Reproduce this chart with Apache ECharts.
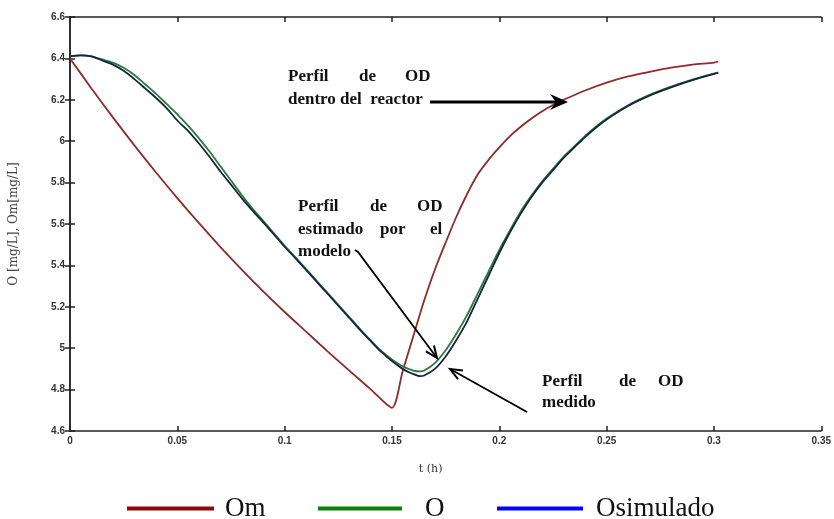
<!DOCTYPE html>
<html>
<head>
<meta charset="utf-8">
<script src="https://cdn.jsdelivr.net/npm/echarts@6/dist/echarts.min.js"></script>
<style>
html,body{margin:0;padding:0;background:#fff;}
#chart{width:834px;height:519px;}
</style>
</head>
<body>
<div id="chart"></div>
<script>
// ---- data ----
const xTicks = [0, 0.05, 0.1, 0.15, 0.2, 0.25, 0.3, 0.35];
const yTicks = [4.6, 4.8, 5, 5.2, 5.4, 5.6, 5.8, 6, 6.2, 6.4, 6.6];

const tOm = [0,0.01,0.02,0.03,0.04,0.05,0.06,0.07,0.08,0.09,0.10,0.11,0.12,0.13,0.14,0.15,0.155,0.16,0.165,0.17,0.175,0.18,0.185,0.19,0.195,0.20,0.205,0.21,0.215,0.22,0.225,0.23,0.24,0.25,0.26,0.27,0.28,0.29,0.30,0.302];
const vOm = [6.40,6.255,6.115,5.98,5.85,5.725,5.605,5.49,5.38,5.275,5.175,5.08,4.985,4.893,4.802,4.712,4.89,5.06,5.23,5.38,5.51,5.635,5.745,5.84,5.91,5.97,6.025,6.07,6.11,6.145,6.175,6.20,6.245,6.283,6.313,6.335,6.355,6.37,6.38,6.385];

const tO = [0,0.005,0.01,0.015,0.02,0.025,0.03,0.035,0.04,0.045,0.05,0.055,0.06,0.065,0.07,0.075,0.08,0.085,0.09,0.095,0.10,0.105,0.11,0.115,0.12,0.125,0.13,0.135,0.14,0.145,0.15,0.155,0.16,0.163,0.165,0.17,0.175,0.18,0.185,0.19,0.195,0.20,0.205,0.21,0.215,0.22,0.225,0.23,0.235,0.24,0.245,0.25,0.26,0.27,0.28,0.29,0.30,0.302];
const vO = [6.41,6.415,6.41,6.395,6.38,6.355,6.32,6.275,6.23,6.18,6.13,6.075,6.015,5.95,5.88,5.81,5.74,5.675,5.615,5.555,5.494,5.439,5.382,5.324,5.267,5.209,5.152,5.094,5.039,4.987,4.946,4.912,4.892,4.888,4.892,4.928,4.99,5.07,5.16,5.265,5.37,5.475,5.57,5.66,5.737,5.806,5.866,5.925,5.975,6.025,6.07,6.11,6.174,6.224,6.264,6.298,6.327,6.332];
const vSim = [6.41,6.415,6.41,6.39,6.37,6.34,6.30,6.255,6.21,6.16,6.10,6.05,5.99,5.925,5.855,5.79,5.725,5.665,5.608,5.55,5.49,5.435,5.378,5.32,5.263,5.205,5.148,5.09,5.035,4.982,4.938,4.90,4.875,4.865,4.868,4.90,4.96,5.04,5.13,5.24,5.35,5.46,5.56,5.65,5.73,5.80,5.86,5.92,5.97,6.02,6.065,6.105,6.17,6.22,6.26,6.295,6.325,6.33];

const seriesNames = ['Om', 'O', 'Osimulado'];
const xName = 't (h)';
const yName = 'O [mg/L], Om[mg/L]';

// ---- chart ----
const zip = (t, v) => t.map((x, i) => [x, v[i]]);
const chart = echarts.init(document.getElementById('chart'), null, {renderer: 'canvas'});

const axisLine = {show: true, lineStyle: {color: '#222', width: 1.5}};
const tickLbl = {color: '#333', fontSize: 10, fontWeight: 'bold', fontFamily: 'Liberation Sans'};
const serif = 'Liberation Serif';
const annFont = 'bold 17px "Liberation Serif"';

function txt(s, x, y) {
  return {type: 'text', x: x, y: y, style: {text: s, font: annFont, fill: '#111', textVerticalAlign: 'middle'}, z: 100};
}

const option = {
  backgroundColor: '#fff',
  animation: false,
  grid: {left: 68, right: 5, top: 17, bottom: 88, containLabel: false},
  xAxis: [{
    type: 'value', min: xTicks[0], max: xTicks[xTicks.length - 1], interval: 0.05,
    position: 'bottom',
    name: xName, nameLocation: 'middle', nameGap: 33,
    nameTextStyle: {fontFamily: 'DejaVu Serif', fontSize: 11, color: '#333', padding: [0, 30, 0, 0]},
    axisLine: axisLine,
    axisTick: {show: true, inside: true, length: 5, lineStyle: {color: '#222', width: 1.5}},
    axisLabel: {...tickLbl, margin: 5, formatter: v => String(+v.toFixed(2))},
    splitLine: {show: false}
  }, {
    type: 'value', min: xTicks[0], max: xTicks[xTicks.length - 1], interval: 0.05,
    position: 'top',
    axisLine: axisLine,
    axisTick: {show: true, inside: true, length: 5, lineStyle: {color: '#222', width: 1.5}},
    axisLabel: {show: false},
    splitLine: {show: false}
  }],
  yAxis: [{
    type: 'value', min: yTicks[0], max: yTicks[yTicks.length - 1], interval: 0.2,
    position: 'left',
    name: yName, nameLocation: 'middle', nameGap: 50, nameRotate: 90,
    nameTextStyle: {fontFamily: 'DejaVu Serif', fontSize: 12, color: '#444'},
    axisLine: axisLine,
    axisTick: {show: true, inside: true, length: 5, lineStyle: {color: '#222', width: 1.5}},
    axisLabel: {...tickLbl, margin: 5, formatter: v => String(+v.toFixed(1))},
    splitLine: {show: false}
  }, {
    type: 'value', min: yTicks[0], max: yTicks[yTicks.length - 1], interval: 0.2,
    position: 'right',
    axisLine: axisLine,
    axisTick: {show: true, inside: true, length: 5, lineStyle: {color: '#222', width: 1.5}},
    axisLabel: {show: false},
    splitLine: {show: false}
  }],
  legend: [
    {left: 127, top: 495, padding: 0, icon: 'rect', itemWidth: 87, itemHeight: 4,
     textStyle: {fontFamily: serif, fontSize: 27, color: '#111', padding: [0, 0, 0, 6]},
     data: [{name: seriesNames[0], itemStyle: {color: '#8b0a0a'}}]},
    {left: 318, top: 495, padding: 0, icon: 'rect', itemWidth: 84, itemHeight: 4,
     textStyle: {fontFamily: serif, fontSize: 27, color: '#111', padding: [0, 0, 0, 18]},
     data: [{name: seriesNames[1], itemStyle: {color: '#0a7d0a'}}]},
    {left: 497, top: 495, padding: 0, icon: 'rect', itemWidth: 86, itemHeight: 4,
     textStyle: {fontFamily: serif, fontSize: 27, color: '#111', padding: [0, 0, 0, 8]},
     data: [{name: seriesNames[2], itemStyle: {color: '#0000ff'}}]}
  ],
  series: [
    {name: seriesNames[0], type: 'line', data: zip(tOm, vOm), showSymbol: false, symbol: 'none',
     smooth: 0.25,
     lineStyle: {color: '#8e2b2b', width: 1.8}, itemStyle: {color: '#8b0a0a'}, z: 3},
    {name: seriesNames[1], type: 'line', data: zip(tO, vO), showSymbol: false, symbol: 'none',
     smooth: 0.25,
     lineStyle: {color: '#2b7a3a', width: 1.8}, itemStyle: {color: '#0a7d0a'}, z: 4},
    {name: seriesNames[2], type: 'line', data: zip(tO, vSim), showSymbol: false, symbol: 'none',
     smooth: 0.25,
     lineStyle: {color: '#16243f', width: 1.8}, itemStyle: {color: '#0000ff'}, z: 5}
  ],
  graphic: [
    // annotation 1
    txt('Perfil', 288, 77), txt('de', 359, 77), txt('OD', 405, 77),
    txt('dentro del  reactor', 288, 100),
    {type: 'line', shape: {x1: 430, y1: 102, x2: 562, y2: 102}, style: {stroke: '#000', lineWidth: 3}, z: 100},
    {type: 'polygon', shape: {points: [[568, 102], [550, 94], [556, 102], [550, 110]]}, style: {fill: '#000'}, z: 100},
    // annotation 2
    txt('Perfil', 298, 207), txt('de', 370, 207), txt('OD', 417, 207),
    txt('estimado', 298, 230), txt('por', 380, 230), txt('el', 430, 230),
    txt('modelo', 298, 252),
    {type: 'polyline', shape: {points: [[355, 250], [358, 252], [437, 358]]}, style: {stroke: '#000', lineWidth: 1.8, fill: null}, z: 100},
    {type: 'polyline', shape: {points: [[425.9, 351.4], [437, 358], [433.9, 345.4]]}, style: {stroke: '#000', lineWidth: 2, fill: null}, z: 100},
    // annotation 3
    txt('Perfil', 542, 382), txt('de', 619, 382), txt('OD', 658, 382),
    txt('medido', 542, 403),
    {type: 'line', shape: {x1: 527, y1: 412, x2: 450, y2: 369}, style: {stroke: '#000', lineWidth: 1.8}, z: 100},
    {type: 'polyline', shape: {points: [[462.9, 370.5], [450, 369], [458.0, 379.2]]}, style: {stroke: '#000', lineWidth: 2, fill: null}, z: 100}
  ]
};
chart.setOption(option);
</script>
</body>
</html>
